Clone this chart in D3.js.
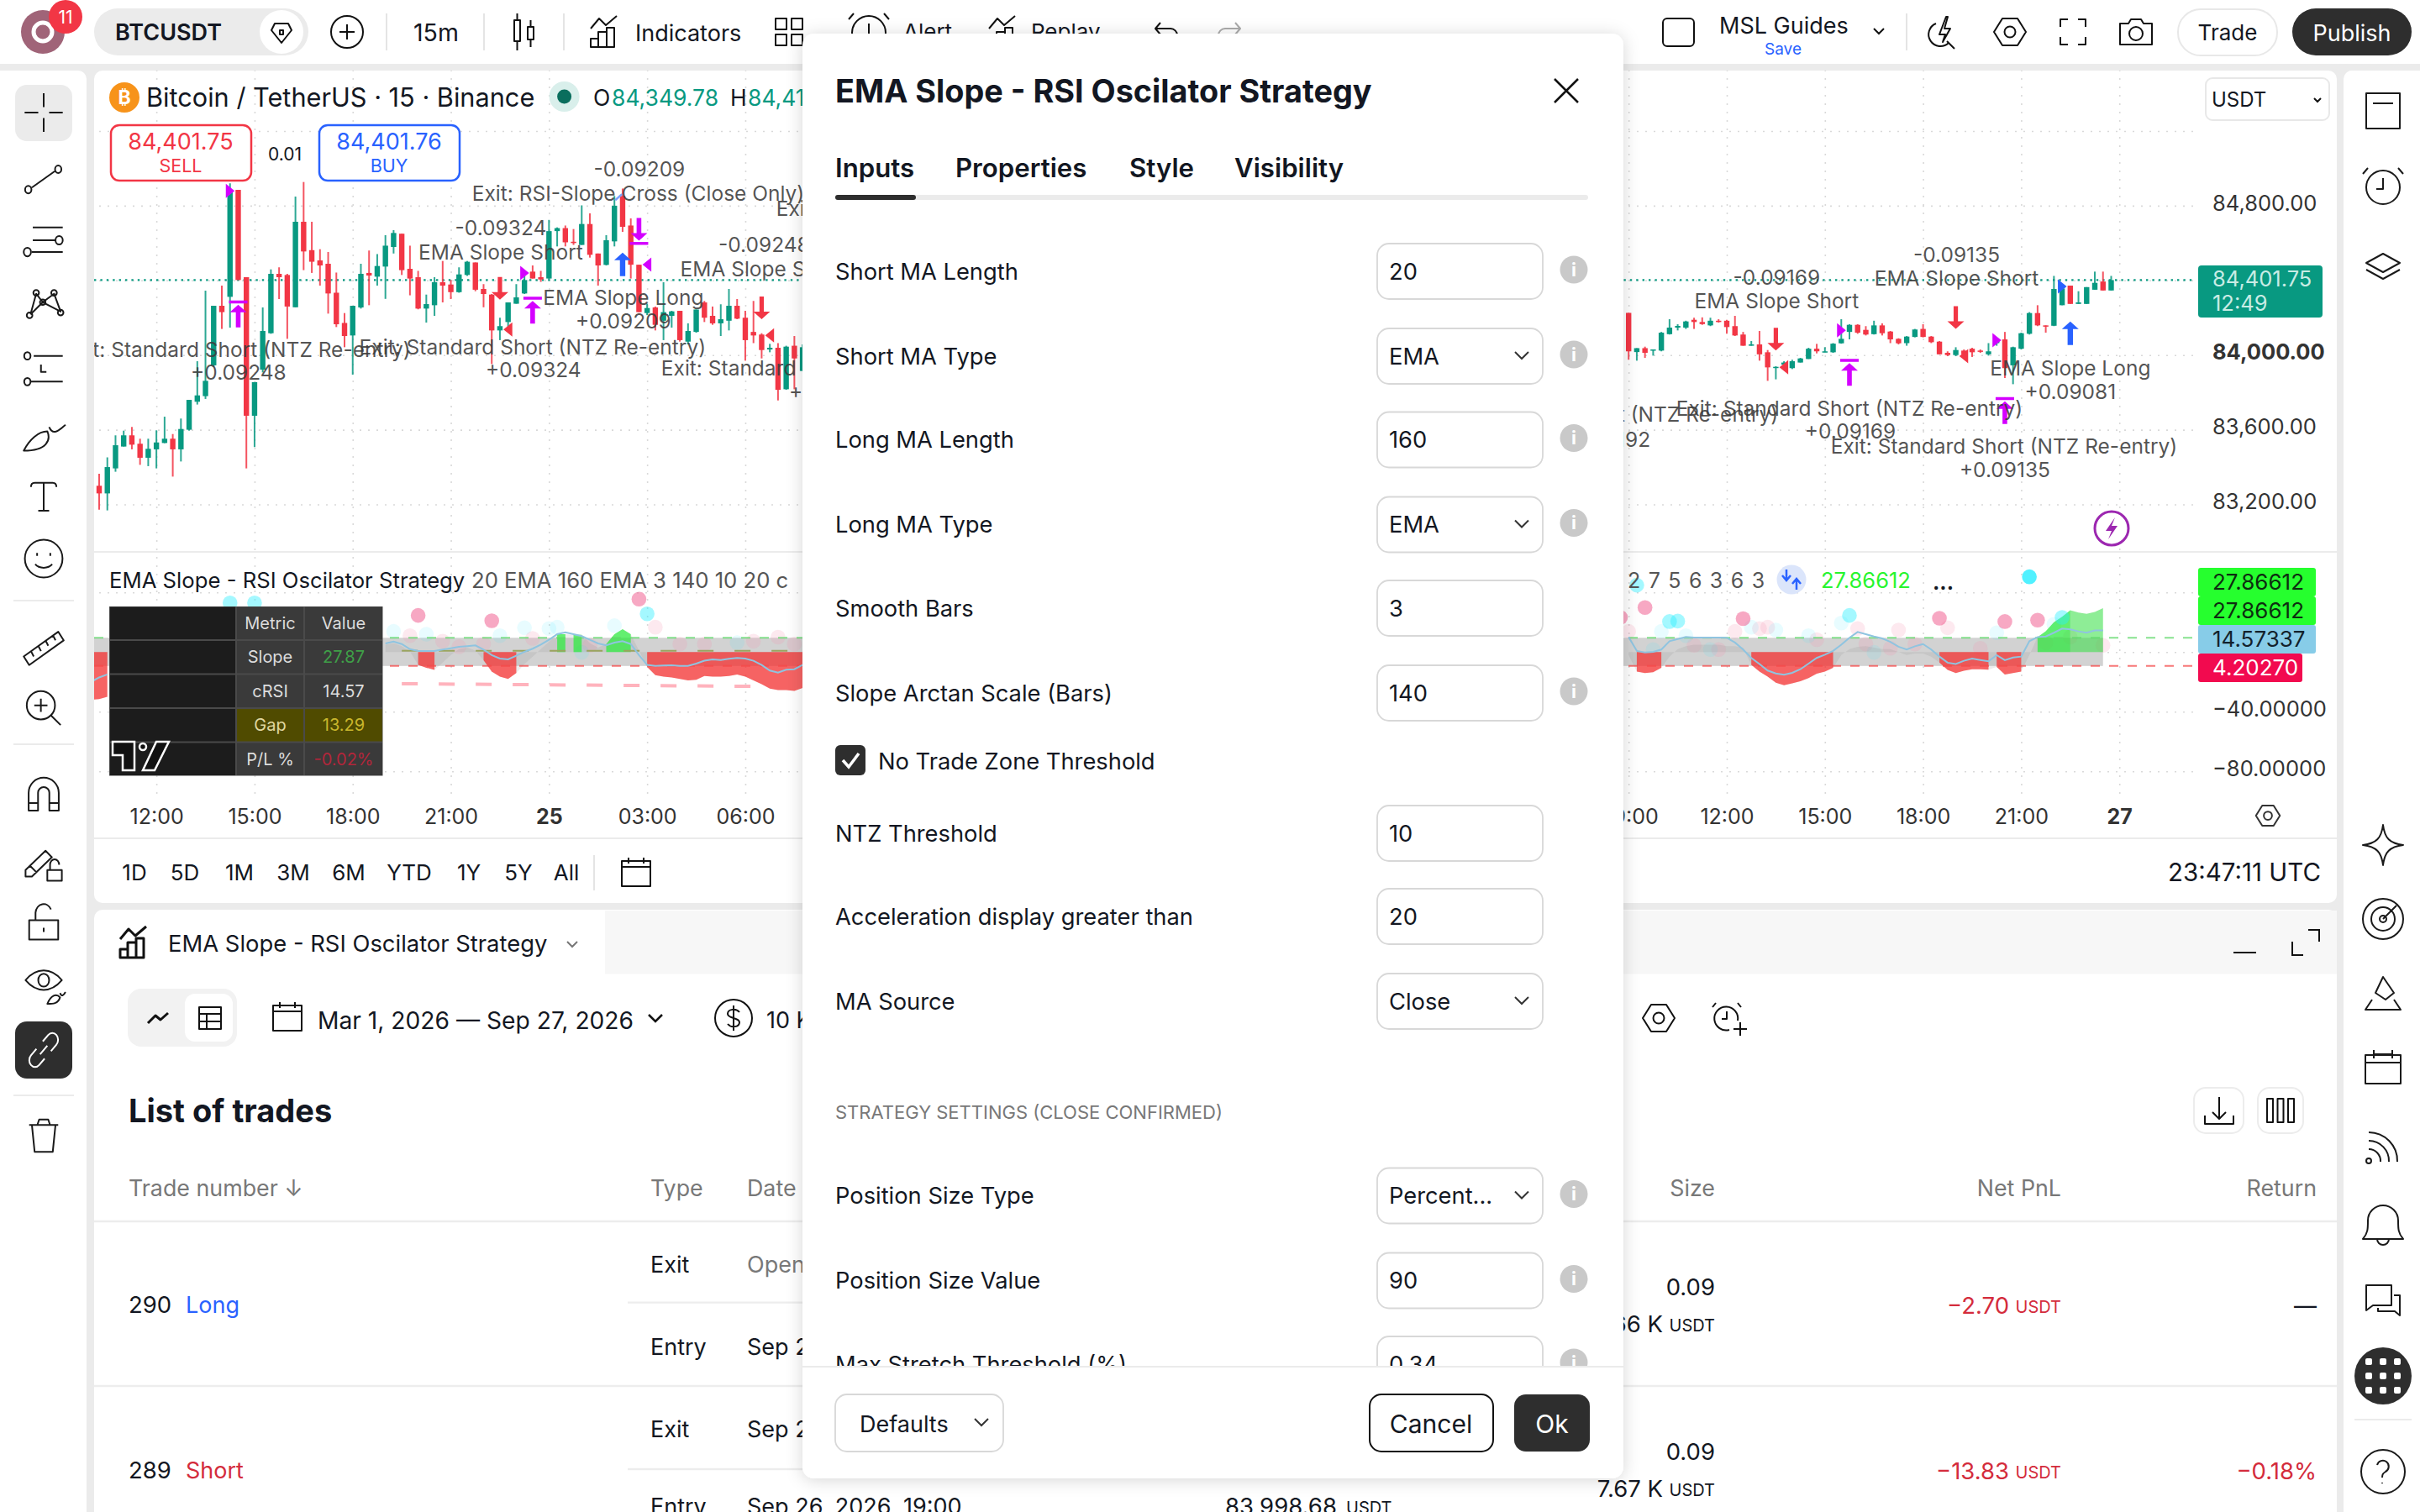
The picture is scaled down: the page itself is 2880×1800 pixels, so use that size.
<!DOCTYPE html>
<html>
<head>
<meta charset="utf-8">
<script src="https://cdn.jsdelivr.net/npm/d3@7"></script>
<style>
html, body { margin: 0; padding: 0; background: #ebebeb; }
svg { display: block; }
text { font-family: Inter, "Noto Sans", sans-serif; }
</style>
</head>
<body>
<script>
// ---- candles, left of the dialog then right of it (15m bars, bar 0 = Sep 24 10:15)
const barIndex = d3.range(0, 87).concat(d3.range(187, 247));
const barHigh = [83364,83452,83570,83595,83615,83552,83552,83597,83670,83577,83660,83760,83967,84345,84264,84372,84920,84885,84417,83855,84255,84459,84470,84435,84849,84927,84714,84567,84552,84442,84225,84264,84489,84560,84541,84642,84669,84650,84586,84451,84324,84417,84504,84402,84470,84504,84496,84380,84327,84200,84282,84380,84440,84480,84451,84724,84684,84694,84675,84802,84759,84544,84642,84852,84892,84732,84484,84275,84260,84390,84237,84237,84170,84244,84290,84260,84272,84354,84300,84237,84290,84117,84060,84064,84050,84102,84057,
  84226,84037,84045,84030,84124,84192,84165,84184,84200,84202,84200,84192,84189,84210,84124,84075,84129,84027,83940,83967,83975,83985,84039,84060,84042,84064,84192,84165,84165,84155,84184,84170,84129,84090,84102,84140,84165,84102,84075,84020,84042,84030,84039,84030,84064,84087,84124,84045,84120,84230,84267,84159,84424,84364,84372,84342,84364,84447,84447,84424];
const barOpen = [83300,83259,83393,83510,83570,83525,83450,83495,83529,83552,83495,83600,83750,83780,83945,84264,84312,84885,84417,83675,83922,84117,84435,84429,84256,84714,84562,84507,84489,84334,84172,84105,84255,84440,84420,84474,84579,84650,84462,84417,84249,84267,84390,84378,84337,84429,84496,84354,84324,84132,84177,84275,84330,84447,84417,84410,84664,84680,84607,84590,84702,84544,84483,84609,84852,84694,84484,84225,84255,84184,84210,84237,84072,84124,84282,84210,84170,84184,84264,84200,84124,84110,84030,84039,83817,84050,83915,
  84226,84016,84037,84024,84024,84112,84147,84147,84189,84177,84159,84184,84184,84155,84110,84050,84057,84015,83934,83949,83930,83960,83979,84034,84015,84015,84063,84124,84162,84135,84112,84159,84126,84087,84064,84097,84140,84099,84072,84012,84000,84024,84034,84024,84004,84064,84084,83945,84034,84114,84225,84159,84157,84267,84372,84274,84274,84350,84394,84346];
const barClose = [83259,83400,83517,83570,83520,83450,83498,83532,83552,83495,83604,83760,83784,83862,84264,84230,84882,84402,83675,83855,84129,84435,84417,84260,84714,84555,84500,84480,84330,84165,84102,84264,84435,84426,84477,84586,84654,84455,84410,84249,84273,84390,84372,84337,84432,84500,84350,84327,84132,84155,84282,84309,84402,84410,84405,84664,84680,84604,84600,84702,84537,84480,84615,84800,84687,84484,84230,84252,84162,84230,84234,84080,84129,84244,84200,84170,84192,84264,84195,84080,84105,84027,84039,83814,84045,83982,84042,
  84020,84037,84012,84030,84120,84147,84156,84180,84177,84166,84184,84177,84150,84105,84050,84057,84004,83934,83937,83960,83967,83982,84034,84020,84020,84061,84087,84162,84120,84110,84159,84117,84084,84063,84099,84137,84097,84069,84004,84000,84027,84004,84015,84018,84020,84080,83930,84042,84117,84225,84159,84155,84354,84357,84274,84282,84364,84387,84346,84401.75];
const barLow = [83172,83168,83375,83510,83495,83412,83405,83393,83528,83349,83430,83595,83735,83765,83937,84140,84147,84402,83393,83507,83907,84114,84300,84087,84256,84455,84440,84372,84222,84150,84042,83895,84249,84267,84372,84301,84544,84429,84320,84245,84174,84210,84282,84300,84334,84424,84342,84256,83952,84080,84147,84275,84327,84410,84392,84406,84582,84582,84590,84590,84522,84372,84480,84582,84660,84410,84230,84214,84132,84080,84147,84072,84057,84120,84177,84162,84102,84132,84192,83970,84064,83982,84015,83757,83814,83817,83915,
  83975,83970,83985,83997,84020,84110,84132,84140,84140,84162,84155,84174,84114,84102,84050,84050,83970,83862,83870,83940,83925,83960,83979,84009,84015,84012,84061,84084,84114,84105,84110,84105,84064,84057,84050,84095,84095,84064,84003,83994,83994,83990,83990,84012,83997,84050,83877,83844,84030,84110,84155,84120,84155,84267,84274,84274,84274,84350,84346,84346];
const lastPrice = 84401.75;

// ---- price and oscillator axes
const priceTicks = [84800, 84400, 84000, 83600, 83200];
const priceGrid = [85200, 84800, 84400, 84000, 83600, 83200];
const oscTicks = [-40, -80];
const oscGrid = [40, 0, -40, -80];
const timeBars = d3.range(7, 248, 12);
const timeLabels = ["12:00","15:00","18:00","21:00","25","03:00","06:00","09:00","12:00","15:00","18:00","21:00","26","03:00","06:00","09:00","12:00","15:00","18:00","21:00","27"];

// ---- oscillator
const oscBars = [-1, 0, 1].concat(d3.range(35, 87), d3.range(187, 246));
const slopeValues = [-32,-31.5,-30,
  5,6,4,0.5,-8.5,-10.5,-12,-7,-2,2,3,1,-5.5,-13,-16.5,-18,-14,-8,-3,2,7,12,12,11.6,11.6,6,3,5.4,12,15.4,12,1,-10,-15.5,-16.5,-17,-18,-19,-18.5,-16,-16.5,-16.5,-16,-15,-16.5,-19,-21.5,-24.5,-25.5,-25.5,-26,-24,
  -2,-13,-14,-13.5,-10.5,-3,2,4,5,5,5,5,4,4,3,-8.6,-13,-16.5,-20.5,-22.2,-21,-19.5,-17.5,-14.5,-13,-10.5,-2,2,3.5,4,3,2,2,0,-2,-1,-1,-3,-7,-12,-14,-12.5,-11.5,-11.5,-11.8,-10,-15,-14,-13,-2,10,14,20,23.7,28,26.5,25.7,27,29.5];
const crsiValues = [-20,-17,-15,
  5.8,7,5.4,2,0.8,0.8,0.8,1.7,2.6,3.6,4,4.5,1.7,-2,-4.3,-4.9,-2.4,0.2,2.3,5,8.3,12,13.3,12,10.7,8.3,5.8,4.5,6.4,7.3,5.4,-2,-8.6,-9.2,-9,-8.8,-9.2,-9.2,-7.7,-5.8,-4.9,-5.3,-4.5,-3.9,-4.3,-5.8,-8.6,-12.4,-13.7,-11.8,-11.5,-8.6,
  10.1,0.8,-0.2,0.2,1.7,7.3,8.8,10.1,9.8,9.8,9.8,9.8,9.6,6.4,1.7,-3.9,-8,-12.4,-14.3,-15.2,-13.9,-11.5,-7.7,-3.9,-1.7,0.8,5,9.6,13.5,12,10.5,9.2,6.9,3.6,1.7,3.9,5.4,1.7,-3,-7.1,-8,-5.8,-4.3,-5.3,-6.2,-2,-5.4,-3.6,-3,7.3,10.1,10.5,13,15.8,15.2,13.9,13,14.5,14.57];
const grayRuns = [[-1,1],[35,86],[187,245]];
const redRuns = [[-1,1],[39,41],[47,51],[67,86],[188,191],[202,212],[225,231],[232,235]];
const greenRuns = [[56,57],[58,59],[62,65],[237,241]];
const paleGreenRuns = [[241,245]];
const ntzLevels = [9.6, -9.3];
const lowerGuideBars = [37, 80];
const lowerGuideValues = [-21.2, -23];
const midGuideBars = [37, 86];
const midGuideValues = [0.9, 0.9];

const pinkDots = [[39,24.6],[48,21],[66,35.5],[186,23.3],[189,29.9],[201,22.4],[225,22.7],[233,20.5],[237,21.4]];
const palePinkDots = [[38,11],[68,16.7],[83,10],[42,7.3],[53,9.2],[80,7.3],[71,5.4],[74,5.4],[60,4.5],[85,5.4],[44,3.6],[47,5.4],
  [187,13.9],[200,13.9],[204,16.7],[203,15.8],[210,8.3],[215,15.8],[220,14.8],[226,16.3],[216,5.4],[219,2.6],[230,2.6],[245,4.5],[195,4.5],[198,1.7],[238,6.4],[241,10.1],[222,5.4]];
const cyanDots = [[236,50.5]];
const midCyanDots = [[16,33],[19,33],[67,25.7],[214,24.6],[193,20.8],[192,20.5],[240,23.3],[188,44.9]];
const paleCyanDots = [[36,13.9],[40,12],[52,16.3],[49,11],[55,15.8],[56,16.7],[63,17.7],[59,-0.2],[78,6.4],
  [191,13.9],[194,11],[213,19.5],[202,16.7],[205,14.8],[209,11],[232,13],[190,1.7],[197,1.7],[217,-0.2],[239,18.6]];

// ---- trade markers: kind, bar, price
const markerKinds = ["triR","tUp","triR","tUp","tDown","arrowUpBlue","triL","arrowDown","triLRed","arrowDown","triLRed","arrowDown","triLRed","tUp","triR","arrowDown","triLRed","triR","tUp","arrowUpBlue","triRBlue"];
const markerBars = [16,17,52,53,66,64,67,49,50,81,82,205,206,214,213,227,228,232,233,241,240];
const markerPrices = [84879,84292,84440,84312,84590,84549,84485,84297,84137,84192,84105,84024,83934,83979,84132,84140,83994,84080,83775,84180,84368];

// ---- strategy labels: text, bar, price
const tradeTexts = ["-0.09209","Exit: RSI-Slope Cross (Close Only)","Exit: RSI-Slope Cross (Close Only)","-0.09248","EMA Slope Short","-0.09324","EMA Slope Short","EMA Slope Long","+0.09209","Exit: Standard Short (NTZ Re-entry)","+0.09324","Exit: Standard Short (NTZ Re-entry)","+0.09248","Exit: Standard Short (NTZ Re-entry)","+0.09192","Exit: Standard Short (NTZ Re-entry)","+0.09192","-0.09169","EMA Slope Short","-0.09135","EMA Slope Short","EMA Slope Long","+0.09081","Exit: Standard Short (NTZ Re-entry)","+0.09169","Exit: Standard Short (NTZ Re-entry)","+0.09135"];
const tradeBars = [66.05,65.9,103.1,81.3,81.1,49.1,49.1,64.1,64.1,53,53.1,16.9,17.05,89.9,89.9,184.1,184.1,205.1,205.1,227.1,227.1,241,241,214,214.1,232.9,233];
const tradePrices = [84998,84867,84786,84590,84462,84680,84552,84309,84183,84045,83922,84030,83909,83929,83802,83684,83549,84417,84291,84539,84410,83931,83805,83715,83594,83510,83387];

// ---- dialog and table text
const settingNames = ["Short MA Length","Short MA Type","Long MA Length","Long MA Type","Smooth Bars","Slope Arctan Scale (Bars)","NTZ Threshold","Acceleration display greater than","MA Source","Position Size Type","Position Size Value","Max Stretch Threshold (%)"];
const settingValues = ["20","EMA","160","EMA","3","140","10","20","Close","Percent...","90","0.34"];
const settingIsSelect = [false,true,false,true,false,false,false,false,true,true,false,false];
const settingHasInfo = [true,true,true,true,false,true,false,false,false,true,true,true];
const tabNames = ["Inputs","Properties","Style","Visibility"];
const rangeNames = ["1D","5D","1M","3M","6M","YTD","1Y","5Y","All"];
const metricRows = ["Metric","Slope","cRSI","Gap","P/L %"];
const metricValues = ["Value","27.87","14.57","13.29","-0.02%"];

// ---- layout
const W = 2880, H = 1800;
const chartL = 112, chartR = 2610, chartT = 84, paneY = 657, plotB = 945;
const settingY = [323,424,523.5,624.5,724,825,992,1091,1192,1423.5,1524.5,1624];
const tabX = [994,1137,1344,1469];
const rangeX = [160,220,285,349,415,487,558,617,674];
const INK = "#131722", UP = "#089981", DOWN = "#f23645", MAGENTA = "#d400ff", BLUE = "#2962ff";

const svg = d3.select("body").append("svg").attr("width", W).attr("height", H).attr("viewBox", "0 0 " + W + " " + H);
const defs = svg.append("defs");
defs.append("clipPath").attr("id", "mainClip").append("rect").attr("x", chartL).attr("y", chartT).attr("width", chartR - chartL).attr("height", paneY - chartT);
defs.append("clipPath").attr("id", "oscClip").append("rect").attr("x", chartL).attr("y", paneY).attr("width", chartR - chartL).attr("height", plotB - paneY);
const shadowFilter = defs.append("filter").attr("id", "shadow").attr("x", "-10%").attr("y", "-10%").attr("width", "120%").attr("height", "120%");
shadowFilter.append("feDropShadow").attr("dx", 0).attr("dy", 2).attr("stdDeviation", 10).attr("flood-color", "#000").attr("flood-opacity", 0.16);

const x = d3.scaleLinear().domain([0, 199]).range([118, 2055]);
const yPrice = d3.scaleLinear().domain([83200, 84800]).range([600.5, 244.9]);
const yOsc = d3.scaleLinear().domain([-80, 40]).range([918.3, 705.3]);

function label(parent, px, py, s, size, fill, opts) {
  opts = opts || {};
  return parent.append("text").attr("x", px).attr("y", py).attr("dy", ".36em")
    .attr("font-size", size).attr("fill", fill || INK)
    .attr("font-weight", opts.weight || 400)
    .attr("text-anchor", opts.anchor || "start")
    .attr("letter-spacing", opts.spacing || null)
    .text(s);
}
function box(parent, px, py, w, h, r, fill, stroke, sw) {
  return parent.append("rect").attr("x", px).attr("y", py).attr("width", w).attr("height", h).attr("rx", r)
    .attr("fill", fill || "none").attr("stroke", stroke || "none").attr("stroke-width", sw || 0);
}
const ring = (cx, cy, r) => "M" + (cx - r) + " " + cy + "a" + r + " " + r + " 0 1 0 " + (2 * r) + " 0a" + r + " " + r + " 0 1 0 " + (-2 * r) + " 0";

// icons, centred on 0,0
const iconPaths = {
  crosshair: "M-21 0H-6M6 0H21M0-18V-5M0 5V18",
  trend: ring(-17,10,3.5) + ring(16,-9,3.5) + "M-13 8L12 -7",
  fib: "M-12-12H21M-12 0H13M-13 11H21" + ring(17,0,4) + ring(-18,11,4),
  pattern: "M-14 11L-8-11L-1-2L11-11L18 8L-1-2L-14 11" + ring(-15,12,3) + ring(-8,-12,3) + ring(-1,-2,3) + ring(11,-12,3) + ring(18,9,3),
  position: "M-11-12H21M-15 12H21" + ring(-18,-12,3.5) + ring(-18,12,3.5) + "M-3-4V3H3",
  brush: "M-22 16C-16 6-6-2 4-2C8 6 4 16-22 16ZM6-6C10 2 16-2 24-8",
  T: "M-14-8C-14-11-12-12-10-12H10C12-12 14-11 14-8M0-12V14M-6 14H6",
  smile: ring(0,0,20) + "M-7-6V-3M7-6V-3M-9 6C-5 11 5 11 9 6",
  ruler: "M-22 9L16-14L22-6L-16 17ZM-14 4L-11 9M-6-1L-3 4M2-6L5-1M10-11L13-6",
  zoomIn: ring(-3,-3,15) + "M8 8L18 18M-10-3H4M-3-10V4",
  magnet: "M-16 17V-2A16 16 0 0 1 16-2V17H6V-2A6 6 0 0 0-6-2V17ZM-16 9H-6M6 9H16",
  pencilLock: "M-20 10L2-8L9-2L-13 16H-20ZM-15 6L-8 12M4 10H20V20H4ZM7 10V5A5 5 0 0 1 17 5",
  unlock: "M-16-2H16V16H-16ZM-9-2V-9A9 9 0 0 1 8-12M0 5V9",
  eyeDraw: "M-20-4C-8-16 8-16 20-4C8 8-8 8-20-4Z" + ring(0,-4,6) + "M4 18C8 10 14 8 18 12C16 18 10 18 4 18ZM18 8C20 12 22 10 24 7",
  link: "M-4 4L4-4M-8-1L-14 5A6 6 0 0 0-5 14L1 8M8 1L14-5A6 6 0 0 0 5-14L-1-8",
  trash: "M-16-10H16M-13-10L-10 15H10L13-10M-7-10L-5-15H5L7-10",
  gem: "M-8-10H8L12-2L0 13L-12-2ZM-2-2H2V3H-2Z",
  plusCircle: ring(0,0,19) + "M-9 0H9M0-9V9",
  candle: "M-12-14H-5V11H-12ZM-8.5-22V-14M-8.5 11V22M4-6H11V9H4ZM7.5-14V-6M7.5 9V18",
  indicators: "M-17 18V8H-8V18ZM-8 18V0H2V18ZM2 18V-5H11V18ZM-17-4L-7-16L1-8L14-19",
  gridFour: "M-16-16H-3V-3H-16ZM3-16H16V-3H3ZM-16 3H-3V16H-16ZM3 3H16V16H3Z",
  bolt: "M4-18L-4 3H3L0 12L9-4H2L6-18ZM-8-10A14 14 0 1 0 7 13M5 11L14 20",
  hex: "M-9-16H9L19 0L9 16H-9L-19 0Z" + ring(0,0,6.5),
  frame: "M-6-15H-15V-6M6-15H15V-6M15 6V15H6M-6 15H-15V6",
  camera: "M-19-10H-9L-6-15H6L9-10H19V15H-19Z" + ring(0,2,8),
  news: "M-20-21H20V21H-20ZM-12-9H12",
  alarm: ring(0,1,20) + "M0-10V3H-8M-18-22L-24-15M18-22L24-15",
  layers: "M0-14L20-3L0 8L-20-3ZM-20 5L0 16L20 5",
  spark: "M0-24C2-8 8-2 24 0C8 2 2 8 0 24C-2 8-8 2-24 0C-8-2-2-8 0-24Z",
  target: ring(0,0,24) + ring(0,0,14) + ring(0,0,4) + "M0 0L16-16",
  ideas: "M0-20L13-1L3 7L-9-1ZM-13 7L-21 19H21L13 7",
  calendar: "M-21-13H21V21H-21ZM-21-4H21M-11-19V-9M11-19V-9M-11-14H11",
  signal: ring(-17,17,3) + "M-17 3A14 14 0 0 1-3 18M-17-7A24 24 0 0 1 7 18M-17-17A34 34 0 0 1 17 18",
  bell: "M-24 18C-18 11-18 6-18-4A18 18 0 0 1 18-4C18 6 18 11 24 18ZM-7 18A7 7 0 0 0 7 18",
  chat: "M-20-18H10V6H-12L-20 12ZM13-6H20V18L14 13H-6V9",
  help: ring(0,0,26) + "M-7-8A7 7 0 1 1 3 0C0 2-1 3-1 7M-1 13V14",
  calendarS: "M-17-13H17V17H-17ZM-17-6H17M-9-17V-10M9-17V-10",
  dollar: ring(0,0,22) + "M7-7C3-12-7-11-7-5C-7 1 7-1 7 5C7 11-3 12-7 7M0-15V15",
  squiggle: "M-12 6L-3-3L3 2L12-6",
  table: "M-13-13H13V13H-13ZM-13-5H13M-13 4H13M-4-5V13",
  alarmPlus: "M13 3A14 14 0 1 0 3 14M0-8V1H-6M-13-18L-17-13M13-18L17-13M8 13H24M16 5V21",
  download: "M0-16V10M-8 2L0 10L8 2M-17 6V16H17V6",
  columns: "M-16-14H-9V14H-16ZM-3.5-14H3.5V14H-3.5ZM9-14H16V14H9Z",
  undo: "M-12-4H6A8 8 0 0 1 6 12H-4M-6-11L-12-4L-6 3",
  redo: "M12-4H-6A8 8 0 0 0-6 12H4M6-11L12-4L6 3"
};
function icon(parent, name, cx, cy, stroke, sw) {
  return parent.append("path").attr("transform", "translate(" + cx + "," + cy + ")").attr("d", iconPaths[name])
    .attr("fill", "none").attr("stroke", stroke || "#1a1a1a").attr("stroke-width", sw || 2).attr("stroke-linejoin", "round")
    .attr("vector-effect", "non-scaling-stroke");
}
function chevron(parent, cx, cy, s, stroke, sw) {
  parent.append("path").attr("d", "M" + (cx - s) + " " + (cy - s / 2) + "L" + cx + " " + (cy + s / 2) + "L" + (cx + s) + " " + (cy - s / 2))
    .attr("fill", "none").attr("stroke", stroke || "#333").attr("stroke-width", sw || 2);
}

// ---- page panels
const panels = svg.append("g");
box(panels, 0, 0, W, 76, 0, "#fff");
box(panels, -10, 84, 113, H, 10, "#fff");
box(panels, chartL, 84, 2781 - chartL, 1075 - 84, 10, "#fff");
box(panels, chartL, 1083, 2781 - chartL, H, 10, "#fff");
box(panels, 2789, 84, 120, H, 10, "#fff");

// ---- top bar
const topBar = svg.append("g");
topBar.append("circle").attr("cx", 51).attr("cy", 38).attr("r", 26).attr("fill", "#a06478");
topBar.append("circle").attr("cx", 51).attr("cy", 38).attr("r", 11).attr("fill", "none").attr("stroke", "#fff").attr("stroke-width", 5);
topBar.append("circle").attr("cx", 78).attr("cy", 20).attr("r", 20).attr("fill", DOWN);
label(topBar, 78, 20, "11", 21, "#fff", { anchor: "middle" });
box(topBar, 112, 10, 255, 56, 28, "#ebebeb");
label(topBar, 137, 38, "BTCUSDT", 27, INK, { weight: 600 });
topBar.append("circle").attr("cx", 335).attr("cy", 38).attr("r", 26).attr("fill", "#fff");
icon(topBar, "gem", 335, 38, "#111", 2);
icon(topBar, "plusCircle", 413, 38, "#111", 2);
[460, 576, 671].forEach(function (sx) { topBar.append("line").attr("x1", sx).attr("x2", sx).attr("y1", 16).attr("y2", 60).attr("stroke", "#e4e4e4").attr("stroke-width", 2); });
label(topBar, 492, 39, "15m", 28.5, INK);
icon(topBar, "candle", 624, 38, "#111", 2);
icon(topBar, "indicators", 720, 38, "#111", 2);
label(topBar, 756, 39, "Indicators", 27, INK);
icon(topBar, "gridFour", 939, 38, "#111", 2);
icon(topBar, "alarm", 1034, 38, "#111", 2);
label(topBar, 1075, 38, "Alert", 26, INK);
icon(topBar, "indicators", 1194, 38, "#111", 2);
label(topBar, 1227, 38, "Replay", 26, INK);
icon(topBar, "undo", 1387, 38, "#111", 2);
icon(topBar, "redo", 1464, 38, "#aaa", 2);
box(topBar, 1979, 22, 37, 33, 5, "none", "#111", 2);
label(topBar, 2046, 30, "MSL Guides", 27, INK);
label(topBar, 2122, 58, "Save", 19, BLUE, { anchor: "middle" });
chevron(topBar, 2236, 37, 6, "#111", 2);
topBar.append("line").attr("x1", 2269).attr("x2", 2269).attr("y1", 16).attr("y2", 60).attr("stroke", "#e4e4e4").attr("stroke-width", 2);
icon(topBar, "bolt", 2312, 38, "#111", 2);
icon(topBar, "hex", 2392, 38, "#111", 2);
icon(topBar, "frame", 2467, 38, "#111", 2);
icon(topBar, "camera", 2542, 38, "#111", 2);
box(topBar, 2592, 11, 118, 55, 27, "#fff", "#e8e8e8", 2);
label(topBar, 2651, 39, "Trade", 26, INK, { anchor: "middle" });
box(topBar, 2728, 10, 142, 56, 28, "#2e2e2e");
label(topBar, 2799, 39, "Publish", 27, "#fff", { anchor: "middle" });

// ---- grid
const gridLayer = svg.append("g");
function styleGrid(g) {
  g.select(".domain").remove();
  g.selectAll("text").remove();
  g.selectAll("line").attr("stroke", "#d9d9d9").attr("stroke-width", 1.6).attr("stroke-dasharray", "2 8");
}
gridLayer.append("g").attr("transform", "translate(" + chartR + ",0)")
  .call(d3.axisLeft(yPrice).tickValues(priceGrid).tickSize(chartR - chartL)).call(styleGrid);
gridLayer.append("g").attr("transform", "translate(" + chartR + ",0)")
  .call(d3.axisLeft(yOsc).tickValues(oscGrid).tickSize(chartR - chartL)).call(styleGrid);
gridLayer.append("g").attr("transform", "translate(0," + plotB + ")")
  .call(d3.axisTop(x).tickValues(timeBars).tickSize(plotB - chartT)).call(styleGrid);
svg.append("line").attr("x1", chartL).attr("x2", 2781).attr("y1", paneY).attr("y2", paneY).attr("stroke", "#ebebeb").attr("stroke-width", 2);
svg.append("line").attr("x1", chartL).attr("x2", 2781).attr("y1", 998).attr("y2", 998).attr("stroke", "#ebebeb").attr("stroke-width", 2);

// ---- candles
const mainPane = svg.append("g").attr("clip-path", "url(#mainClip)");
mainPane.append("line").attr("x1", chartL).attr("x2", chartR).attr("y1", yPrice(lastPrice)).attr("y2", yPrice(lastPrice))
  .attr("stroke", UP).attr("stroke-width", 2.4).attr("stroke-dasharray", "2.4 5");
const bars = barIndex.map(function (b, i) { return { bar: b, o: barOpen[i], h: barHigh[i], l: barLow[i], c: barClose[i] }; });
const barColor = d => d.c >= d.o ? UP : DOWN;
mainPane.selectAll("line.wick").data(bars).join("line").attr("class", "wick")
  .attr("x1", d => x(d.bar)).attr("x2", d => x(d.bar)).attr("y1", d => yPrice(d.h)).attr("y2", d => yPrice(d.l))
  .attr("stroke", barColor).attr("stroke-width", 2).attr("stroke-opacity", 0.85);
mainPane.selectAll("rect.body").data(bars).join("rect").attr("class", "body")
  .attr("x", d => x(d.bar) - 3.2).attr("width", 6.4)
  .attr("y", d => yPrice(Math.max(d.o, d.c))).attr("height", d => Math.max(1.5, Math.abs(yPrice(d.o) - yPrice(d.c))))
  .attr("fill", barColor);

// ---- markers
const markerShape = {
  arrowDown: { d: "M-2.6-27H2.6V-9H10L0 0L-10-9H-2.6Z", fill: DOWN },
  arrowUpBlue: { d: "M0 0L10 9H3.2V28H-3.2V9H-10Z", fill: BLUE },
  tUp: { d: "M-11 0H11V3.5H-11ZM0 5L10 14H2.8V32H-2.8V14H-10Z", fill: MAGENTA },
  tDown: { d: "M-11 0H11V-3.5H-11ZM0-5L10-14H2.8V-32H-2.8V-14H-10Z", fill: MAGENTA },
  triR: { d: "M-5-8.5L5.5 0L-5 8.5Z", fill: MAGENTA },
  triRBlue: { d: "M-5-8.5L5.5 0L-5 8.5Z", fill: BLUE },
  triL: { d: "M5-8.5L-5.5 0L5 8.5Z", fill: MAGENTA },
  triLRed: { d: "M5-8.5L-5.5 0L5 8.5Z", fill: DOWN }
};
mainPane.selectAll("path.marker").data(markerKinds).join("path").attr("class", "marker")
  .attr("transform", (k, i) => "translate(" + x(markerBars[i]) + "," + yPrice(markerPrices[i]) + ")")
  .attr("d", k => markerShape[k].d).attr("fill", k => markerShape[k].fill);
mainPane.append("line").attr("x1", x(63) + 1).attr("x2", x(63) + 9).attr("y1", yPrice(84830)).attr("y2", yPrice(84862))
  .attr("stroke", "#7aa2ff").attr("stroke-width", 2.5);

// ---- strategy labels
mainPane.selectAll("text.trade").data(tradeTexts).join("text").attr("class", "trade")
  .attr("x", (t, i) => x(tradeBars[i])).attr("y", (t, i) => yPrice(tradePrices[i])).attr("dy", ".36em")
  .attr("text-anchor", "middle").attr("font-size", 24.5).attr("fill", "#3c3c3c").attr("fill-opacity", 0.88)
  .text(t => t);

// ---- legend and quote boxes
const legendLayer = svg.append("g");
legendLayer.append("circle").attr("cx", 148).attr("cy", 116).attr("r", 18).attr("fill", "#f7931a");
label(legendLayer, 148, 116, "₿", 23, "#fff", { anchor: "middle", weight: 700 });
label(legendLayer, 174, 116, "Bitcoin / TetherUS · 15 · Binance", 30.7, INK);
legendLayer.append("circle").attr("cx", 671.6).attr("cy", 115).attr("r", 18).attr("fill", "#d9efeb");
legendLayer.append("circle").attr("cx", 671.6).attr("cy", 115).attr("r", 8.5).attr("fill", "#0a6e5d");
label(legendLayer, 706, 116, "O", 26.5, INK);
label(legendLayer, 728, 116, "84,349.78", 26.5, UP);
label(legendLayer, 869, 116, "H", 26.5, INK);
label(legendLayer, 890, 116, "84,41", 26.5, UP);
box(legendLayer, 132, 149, 167, 66, 10, "#fff", DOWN, 2.5);
label(legendLayer, 215, 168, "84,401.75", 27, DOWN, { anchor: "middle" });
label(legendLayer, 215, 197, "SELL", 21.5, DOWN, { anchor: "middle" });
label(legendLayer, 339, 183, "0.01", 21, INK, { anchor: "middle" });
box(legendLayer, 380, 149, 167, 66, 10, "#fff", BLUE, 2.5);
label(legendLayer, 463, 168, "84,401.76", 27, BLUE, { anchor: "middle" });
label(legendLayer, 463, 197, "BUY", 21.5, BLUE, { anchor: "middle" });
box(legendLayer, 2625, 93, 147, 50, 8, "#fff", "#e8e8e8", 2);
label(legendLayer, 2632, 118, "USDT", 24, INK);
chevron(legendLayer, 2758, 119, 4, "#111", 2);
legendLayer.append("circle").attr("cx", 2513).attr("cy", 629).attr("r", 20).attr("fill", "#fff").attr("stroke", "#9c27b0").attr("stroke-width", 3);
legendLayer.append("path").attr("d", "M2517 616L2506 632H2513L2509 642L2520 626H2513Z").attr("fill", "#9c27b0");

// ---- price axis
const priceAxis = svg.append("g").attr("transform", "translate(2633,0)")
  .call(d3.axisRight(yPrice).tickValues(priceTicks).tickSize(0).tickPadding(0).tickFormat(d3.format(",.2f")));
priceAxis.select(".domain").remove();
priceAxis.selectAll("text").attr("font-size", 25.5).attr("fill", "#333").attr("font-family", "Inter")
  .attr("dy", ".2em")
  .attr("font-weight", d => d === 84000 ? 700 : 400);
box(svg, 2616, 316, 148, 62, 4, UP);
label(svg, 2633, 332, "84,401.75", 25.5, "#c9ece5");
label(svg, 2633, 361, "12:49", 25.5, "#c9ece5");

// ---- oscillator pane
const oscPane = svg.append("g").attr("clip-path", "url(#oscClip)");
const oscPoints = oscBars.map(function (b, i) { return { bar: b, slope: slopeValues[i], crsi: crsiValues[i] }; });
const slopeArea = d3.area().x(d => x(d.bar)).y0(yOsc(0)).y1(d => yOsc(d.slope));
const crsiLine = d3.line().x(d => x(d.bar)).y(d => yOsc(d.crsi));
const inRun = r => oscPoints.filter(d => d.bar >= r[0] && d.bar <= r[1]);

function dots(list, color, alpha) {
  oscPane.append("g").selectAll("circle").data(list).join("circle")
    .attr("cx", d => x(d[0])).attr("cy", d => yOsc(d[1])).attr("r", 8.8)
    .attr("fill", color).attr("fill-opacity", alpha);
}
oscPane.append("rect").attr("x", chartL).attr("width", x(245) - chartL).attr("y", yOsc(ntzLevels[0])).attr("height", yOsc(ntzLevels[1]) - yOsc(ntzLevels[0]))
  .attr("fill", "#d2d2d2");
dots(palePinkDots, "#f48fb1", 0.2);
dots(paleCyanDots, "#40e8ff", 0.12);
grayRuns.forEach(r => oscPane.append("path").attr("d", slopeArea(inRun(r))).attr("fill", "#888").attr("fill-opacity", 0.16));
redRuns.forEach(r => oscPane.append("path").attr("d", slopeArea(inRun(r))).attr("fill", "#fb2a2a").attr("fill-opacity", 0.7));
greenRuns.forEach(r => oscPane.append("path").attr("d", slopeArea(inRun(r))).attr("fill", "#1cf02f").attr("fill-opacity", 0.66));
paleGreenRuns.forEach(r => oscPane.append("path").attr("d", slopeArea(inRun(r))).attr("fill", "#1cf02f").attr("fill-opacity", 0.45));
dots(pinkDots, "#f0588c", 0.52);
dots(cyanDots, "#25eeff", 0.8);
dots(midCyanDots, "#25eeff", 0.42);
oscPane.append("line").attr("x1", chartL).attr("x2", chartR).attr("y1", yOsc(ntzLevels[0])).attr("y2", yOsc(ntzLevels[0]))
  .attr("stroke", "#5fd86a").attr("stroke-width", 2).attr("stroke-opacity", 0.75).attr("stroke-dasharray", "11 11");
oscPane.append("line").attr("x1", chartL).attr("x2", chartR).attr("y1", yOsc(ntzLevels[1])).attr("y2", yOsc(ntzLevels[1]))
  .attr("stroke", "#f44a4a").attr("stroke-width", 2).attr("stroke-opacity", 0.75).attr("stroke-dasharray", "11 11");
const guideLine = d3.line().x(d => x(d[0])).y(d => yOsc(d[1]));
oscPane.append("path").attr("d", guideLine(lowerGuideBars.map((b, i) => [b, lowerGuideValues[i]])))
  .attr("fill", "none").attr("stroke", "#ffb3bd").attr("stroke-width", 4).attr("stroke-dasharray", "19 25");
oscPane.append("path").attr("d", guideLine(midGuideBars.map((b, i) => [b, midGuideValues[i]])))
  .attr("fill", "none").attr("stroke", "#9aa45e").attr("stroke-width", 2).attr("stroke-dasharray", "19 25");
grayRuns.forEach(r => oscPane.append("path").attr("d", crsiLine(inRun(r))).attr("fill", "none").attr("stroke", "#8fc4e0").attr("stroke-width", 2));

// ---- oscillator legend
const oscLegend = svg.append("g");
label(oscLegend, 130, 691, "EMA Slope - RSI Oscilator Strategy", 25.7, INK);
label(oscLegend, 561, 691, "20 EMA 160 EMA 3 140 10 20 c", 25.7, "#555");
label(oscLegend, 1937, 691, "2 7 5 6 3 6 3", 25, "#555", { spacing: "1.2px" });
oscLegend.append("circle").attr("cx", 2132).attr("cy", 690).attr("r", 17.5).attr("fill", "#dbe5fb");
oscLegend.append("path").attr("d", "M2126 678V690M2121 685L2126 691L2131 685M2138 702V690M2133 695L2138 689L2143 695").attr("fill", "none").attr("stroke", BLUE).attr("stroke-width", 2.5);
label(oscLegend, 2167, 691, "27.86612", 25.5, "#26f52e");
label(oscLegend, 2300, 693, "...", 25, INK, { weight: 700 });

// ---- metric table
const metricTable = svg.append("g");
box(metricTable, 130, 722, 325.5, 201.5, 0, "#4a4a4a");
const rowTops = [722.5, 763, 803.5, 844, 884.5];
const rowColors = ["#dcdcdc", "#dcdcdc", "#dcdcdc", "#e0d8a0", "#dcdcdc"];
const valueColors = ["#dcdcdc", "#3f9f48", "#dcdcdc", "#c9b62c", "#b3263a"];
metricRows.forEach(function (name, i) {
  box(metricTable, 131, rowTops[i], 149, 38.5, 0, "#1c1c1c");
  box(metricTable, 282, rowTops[i], 79, 38.5, 0, i === 3 ? "#504b00" : "#3a3a3a");
  box(metricTable, 363, rowTops[i], 92, 38.5, 0, i === 3 ? "#504b00" : "#3a3a3a");
  label(metricTable, 321.5, rowTops[i] + 19, name, 20, rowColors[i], { anchor: "middle" });
  label(metricTable, 409, rowTops[i] + 19, metricValues[i], 20, valueColors[i], { anchor: "middle" });
});
metricTable.append("path").attr("d", "M134 883H160V917H146V899H134ZM186 883H201L184 917H170Z").attr("fill", "#111").attr("stroke", "#fff").attr("stroke-width", 2.5);
metricTable.append("circle").attr("cx", 170).attr("cy", 889).attr("r", 4).attr("fill", "#111").attr("stroke", "#fff").attr("stroke-width", 2.5);

// ---- oscillator axis, tags, time axis
const oscAxis = svg.append("g").attr("transform", "translate(2633,0)")
  .call(d3.axisRight(yOsc).tickValues(oscTicks).tickSize(0).tickPadding(0).tickFormat(d => "−" + d3.format(".5f")(Math.abs(d))));
oscAxis.select(".domain").remove();
oscAxis.selectAll("text").attr("font-size", 25.5).attr("fill", "#333").attr("font-family", "Inter").attr("dy", ".2em");
const tagTop = [676, 710, 744, 778];
const tagLabel = ["27.86612", "27.86612", "14.57337", "4.20270"];
const tagFill = ["#26ff2e", "#26ff2e", "#87cce8", "#f20a4f"];
const tagWidth = [140, 140, 140, 124];
const tagInk = ["#0d2d10", "#0d2d10", "#13222c", "#fff"];
tagLabel.forEach(function (t, i) {
  box(svg, 2616, tagTop[i], tagWidth[i], 34, 3, tagFill[i]);
  label(svg, 2633, tagTop[i] + 17, t, 26, tagInk[i]);
});
const timeAxis = svg.append("g").attr("transform", "translate(0,972)")
  .call(d3.axisBottom(x).tickValues(timeBars).tickSize(0).tickPadding(0).tickFormat((d, i) => timeLabels[i]));
timeAxis.select(".domain").remove();
timeAxis.selectAll("text").attr("font-size", 25).attr("fill", "#333").attr("font-family", "Inter").attr("dy", ".36em")
  .attr("font-weight", (d, i) => timeLabels[i].length === 2 ? 700 : 400);
icon(svg, "hex", 2699, 971, "#333", 2).attr("transform", "translate(2699,971) scale(.75)");

// ---- range row
const rangeRow = svg.append("g");
rangeNames.forEach((r, i) => label(rangeRow, rangeX[i], 1039, r, 26, INK, { anchor: "middle" }));
rangeRow.append("line").attr("x1", 707).attr("x2", 707).attr("y1", 1018).attr("y2", 1060).attr("stroke", "#e4e4e4").attr("stroke-width", 2);
icon(rangeRow, "calendarS", 757, 1038, "#111", 2);
label(rangeRow, 2762, 1038, "23:47:11 UTC", 29.5, INK, { anchor: "end" });

// ---- strategy tester
const tester = svg.append("g");
box(tester, 720, 1084, 2061, 75.5, 0, "#f7f7f7");
icon(tester, "indicators", 160, 1122, "#111", 3);
label(tester, 200, 1123, "EMA Slope - RSI Oscilator Strategy", 27.4, INK);
chevron(tester, 681, 1124, 6, "#777", 2);
tester.append("path").attr("d", "M2658 1134H2685M2728 1121V1137H2741M2747 1107H2760V1121").attr("fill", "none").attr("stroke", "#111").attr("stroke-width", 2);
box(tester, 152, 1177, 130, 69, 16, "#f2f2f2");
box(tester, 220, 1183, 57, 57, 12, "#fff");
icon(tester, "squiggle", 188, 1212, "#111", 3);
icon(tester, "table", 250, 1212, "#111", 2);
icon(tester, "calendarS", 342, 1210, "#111", 2);
label(tester, 378, 1215, "Mar 1, 2026 — Sep 27, 2026", 28.2, INK);
chevron(tester, 780, 1212, 8, "#111", 2.5);
icon(tester, "dollar", 873, 1212, "#111", 2);
label(tester, 912, 1214, "10 K", 27, INK);
icon(tester, "hex", 1974, 1212, "#111", 2);
icon(tester, "alarmPlus", 2055, 1212, "#111", 2);
box(tester, 2611, 1295, 59, 54, 14, "#fff", "#ececec", 2);
icon(tester, "download", 2641, 1322, "#111", 2);
box(tester, 2687, 1295, 54, 54, 14, "#fff", "#ececec", 2);
icon(tester, "columns", 2714, 1322, "#111", 2);
label(tester, 153, 1322, "List of trades", 38, INK, { weight: 700 });

const headNames = ["Trade number ↓", "Type", "Date", "Size", "Net PnL", "Return"];
const headX = [153, 774, 889, 2041, 2453, 2757];
const headAnchor = ["start", "start", "start", "end", "end", "end"];
headNames.forEach((h, i) => label(tester, headX[i], 1414, h, 26.8, "#787878", { anchor: headAnchor[i] }));
[[112, 2781, 1454], [112, 2781, 1650], [747, 1000, 1550.6], [747, 1000, 1749]].forEach(function (l) {
  tester.append("line").attr("x1", l[0]).attr("x2", l[1]).attr("y1", l[2]).attr("y2", l[2]).attr("stroke", "#ededed").attr("stroke-width", 2.4);
});
label(tester, 153, 1553, "290", 27.5, INK);
label(tester, 221, 1553, "Long", 27, BLUE);
label(tester, 153, 1750, "289", 27.5, INK);
label(tester, 221, 1750, "Short", 27, "#d42c3c");
[[1505, "Exit"], [1603, "Entry"], [1701, "Exit"], [1793, "Entry"]].forEach(r => label(tester, 774, r[0], r[1], 27, INK));
label(tester, 889, 1505, "Open", 27, "#787878");
label(tester, 889, 1603, "Sep 26, 2026, 21:15", 27, INK);
label(tester, 889, 1701, "Sep 26, 2026, 21:15", 27, INK);
label(tester, 889, 1793, "Sep 26, 2026, 19:00", 27, INK);
label(tester, 1458, 1793, "83,998.68", 27.5, INK);
label(tester, 1602, 1795, "USDT", 20, INK);

function amount(parent, rightX, py, num, fill) {
  label(parent, rightX, py + 2, "USDT", 20, fill, { anchor: "end" });
  label(parent, rightX - 62, py, num, 27.5, fill, { anchor: "end" });
}
label(tester, 2041, 1532, "0.09", 27.5, INK, { anchor: "end" });
amount(tester, 2041, 1576, "7.66 K", INK);
amount(tester, 2453, 1554, "−2.70", "#d42c3c");
label(tester, 2757, 1554, "—", 27, INK, { anchor: "end" });
label(tester, 2041, 1728, "0.09", 27.5, INK, { anchor: "end" });
amount(tester, 2041, 1772, "7.67 K", INK);
amount(tester, 2453, 1751, "−13.83", "#d42c3c");
label(tester, 2757, 1751, "−0.18%", 27.5, "#d42c3c", { anchor: "end" });

// ---- left toolbar
const leftBar = svg.append("g");
box(leftBar, 18, 101, 68, 67, 14, "#ebebeb");
box(leftBar, 18, 1216, 68, 68, 14, "#2e2e2e");
const leftIcons = ["crosshair","trend","fib","pattern","position","brush","T","smile","ruler","zoomIn","magnet","pencilLock","unlock","eyeDraw","link","trash"];
const leftIconY = [134,213,286,362,439,516,590,665,770,843,946,1023,1098,1172,1250,1352];
const roundIcons = ["smile", "zoomIn", "magnet", "pattern"];
leftIcons.forEach(function (n, i) {
  const s = roundIcons.indexOf(n) >= 0 ? "scale(1.12)" : "scale(1.08,1.28)";
  icon(leftBar, n, 52, leftIconY[i], n === "link" ? "#fff" : "#1a1a1a", 2).attr("transform", "translate(52," + leftIconY[i] + ") " + s);
});
[715, 886, 1304].forEach(ly => leftBar.append("line").attr("x1", 16).attr("x2", 88).attr("y1", ly).attr("y2", ly).attr("stroke", "#ebebeb").attr("stroke-width", 2));

// ---- right toolbar
const rightBar = svg.append("g");
const rightIcons = ["news","alarm","layers","spark","target","ideas","calendar","signal","bell","chat","help"];
const rightIconY = [132,222,316,1006,1094,1183,1269,1365,1457,1548,1752];
rightIcons.forEach((n, i) => icon(rightBar, n, 2836, rightIconY[i], "#1a1a1a", 2));
rightBar.append("circle").attr("cx", 2836).attr("cy", 1638).attr("r", 34).attr("fill", "#2e2e2e");
d3.range(9).forEach(function (k) {
  box(rightBar, 2836 - 21 + (k % 3) * 17, 1638 - 21 + Math.floor(k / 3) * 17, 8, 8, 2, "#fff");
});
rightBar.append("line").attr("x1", 2802).attr("x2", 2870).attr("y1", 1690).attr("y2", 1690).attr("stroke", "#ebebeb").attr("stroke-width", 2);

// ---- settings dialog
const modal = svg.append("g");
box(modal, 955, 40, 977, 1720, 14, "#fff").attr("filter", "url(#shadow)");
label(modal, 994, 108, "EMA Slope - RSI Oscilator Strategy", 37.8, INK, { weight: 700 });
modal.append("path").attr("d", "M1850 94L1878 122M1878 94L1850 122").attr("stroke", "#111").attr("stroke-width", 2.5);
tabNames.forEach((t, i) => label(modal, tabX[i], 200, t, 31.2, INK, { weight: 600 }));
box(modal, 994, 232, 896, 6, 3, "#ebebeb");
box(modal, 994, 232, 96, 6, 3, "#2e2e2e");

settingNames.forEach(function (name, i) {
  const cy = settingY[i];
  label(modal, 994, cy, name, 27.3, INK);
  box(modal, 1639, cy - 33, 197, 66, 14, "#fff", "#d8d8d8", 1.8);
  label(modal, 1653, cy, settingValues[i], 27.3, INK);
  if (settingIsSelect[i]) chevron(modal, 1811, cy - 1, 8, "#333", 2);
  if (settingHasInfo[i]) {
    modal.append("circle").attr("cx", 1873).attr("cy", cy - 2).attr("r", 16.5).attr("fill", "#c9c9c9");
    label(modal, 1873, cy - 2, "i", 22, "#fff", { anchor: "middle", weight: 700 });
  }
});
box(modal, 994, 887, 36, 36, 6, "#2e2e2e");
modal.append("path").attr("d", "M1003 905L1010 913L1022 897").attr("fill", "none").attr("stroke", "#fff").attr("stroke-width", 3.5);
label(modal, 1045, 906, "No Trade Zone Threshold", 27.3, INK);
label(modal, 994, 1324, "STRATEGY SETTINGS (CLOSE CONFIRMED)", 22, "#787878");

box(modal, 955, 1627, 977, 133, 14, "#fff");
modal.append("line").attr("x1", 955).attr("x2", 1932).attr("y1", 1627).attr("y2", 1627).attr("stroke", "#ebebeb").attr("stroke-width", 2);
box(modal, 994, 1660, 200, 68, 14, "#fff", "#d8d8d8", 1.8);
label(modal, 1023, 1695, "Defaults", 27, INK);
chevron(modal, 1168, 1693, 8, "#333", 2);
box(modal, 1630, 1660, 147, 68, 14, "#fff", "#111", 2);
label(modal, 1703, 1695, "Cancel", 30, INK, { anchor: "middle" });
box(modal, 1802, 1660, 90, 68, 14, "#2e2e2e");
label(modal, 1847, 1695, "Ok", 30, "#fff", { anchor: "middle" });
</script>
</body>
</html>
